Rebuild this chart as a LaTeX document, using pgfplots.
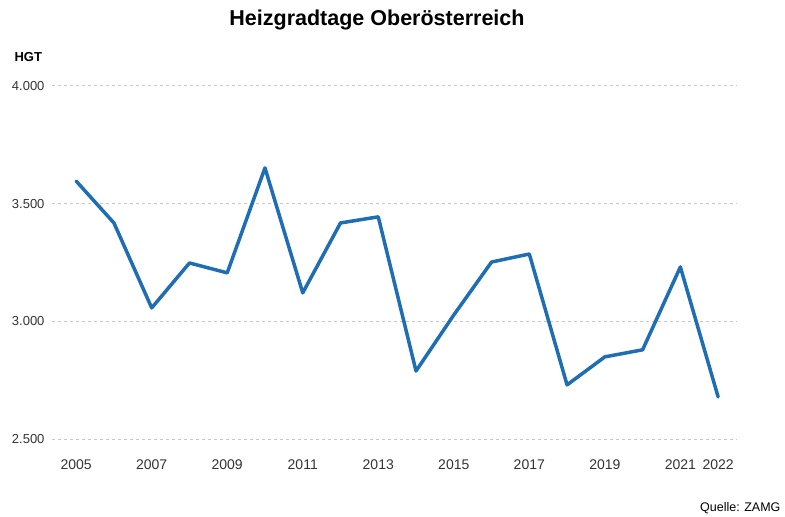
\documentclass[border=0pt]{standalone}
\usepackage{pgfplots}
\pgfplotsset{compat=1.18}
\usepackage{fontspec}
\setmainfont{Liberation Sans}
\definecolor{lineblue}{RGB}{31,110,180}
\begin{document}
\begin{tikzpicture}[x=1pt,y=1pt]
\path[use as bounding box] (0,0) rectangle (785,517);
\begin{axis}[
  at={(52pt,78pt)}, anchor=south west,
  scale only axis, width=685pt, height=353pt,
  xmin=2004.36, xmax=2022.5, ymin=2500, ymax=4000,
  axis line style={draw=none}, major tick style={draw=none},
  ytick={2500,3000,3500,4000},
  xtick={2005,2007,2009,2011,2013,2015,2017,2019,2021,2022},
  ymajorgrids, grid style={dash pattern=on 3pt off 3pt, black!22, line width=1pt},
  /pgf/number format/assume math mode=true,
  yticklabel style={/pgf/number format/1000 sep={.}, font=\fontsize{13}{15}\selectfont, text=black!80, xshift=-4pt},
  xticklabel style={/pgf/number format/1000 sep={}, font=\fontsize{14}{16}\selectfont, text=black!80, yshift=-17pt},
  clip=false,
]
\addplot[lineblue, line width=3.5pt, line join=round, line cap=round] coordinates {
(2005,3596) (2006,3418) (2007,3057) (2008,3248) (2009,3206) (2010,3652)
(2011,3121) (2012,3418) (2013,3444) (2014,2789) (2015,3027) (2016,3252)
(2017,3286) (2018,2730) (2019,2849) (2020,2879) (2021,3231) (2022,2679)
};
\end{axis}
\node[font=\fontsize{21.5}{24}\selectfont\bfseries] at (377,497) {Heizgradtage Oberösterreich};
\node[font=\fontsize{13}{15}\selectfont\bfseries, anchor=west] at (11,460) {HGT};
\node[font=\fontsize{12.5}{14}\selectfont, anchor=east] at (784,9) {Quelle: ZAMG};
\end{tikzpicture}
\end{document}
